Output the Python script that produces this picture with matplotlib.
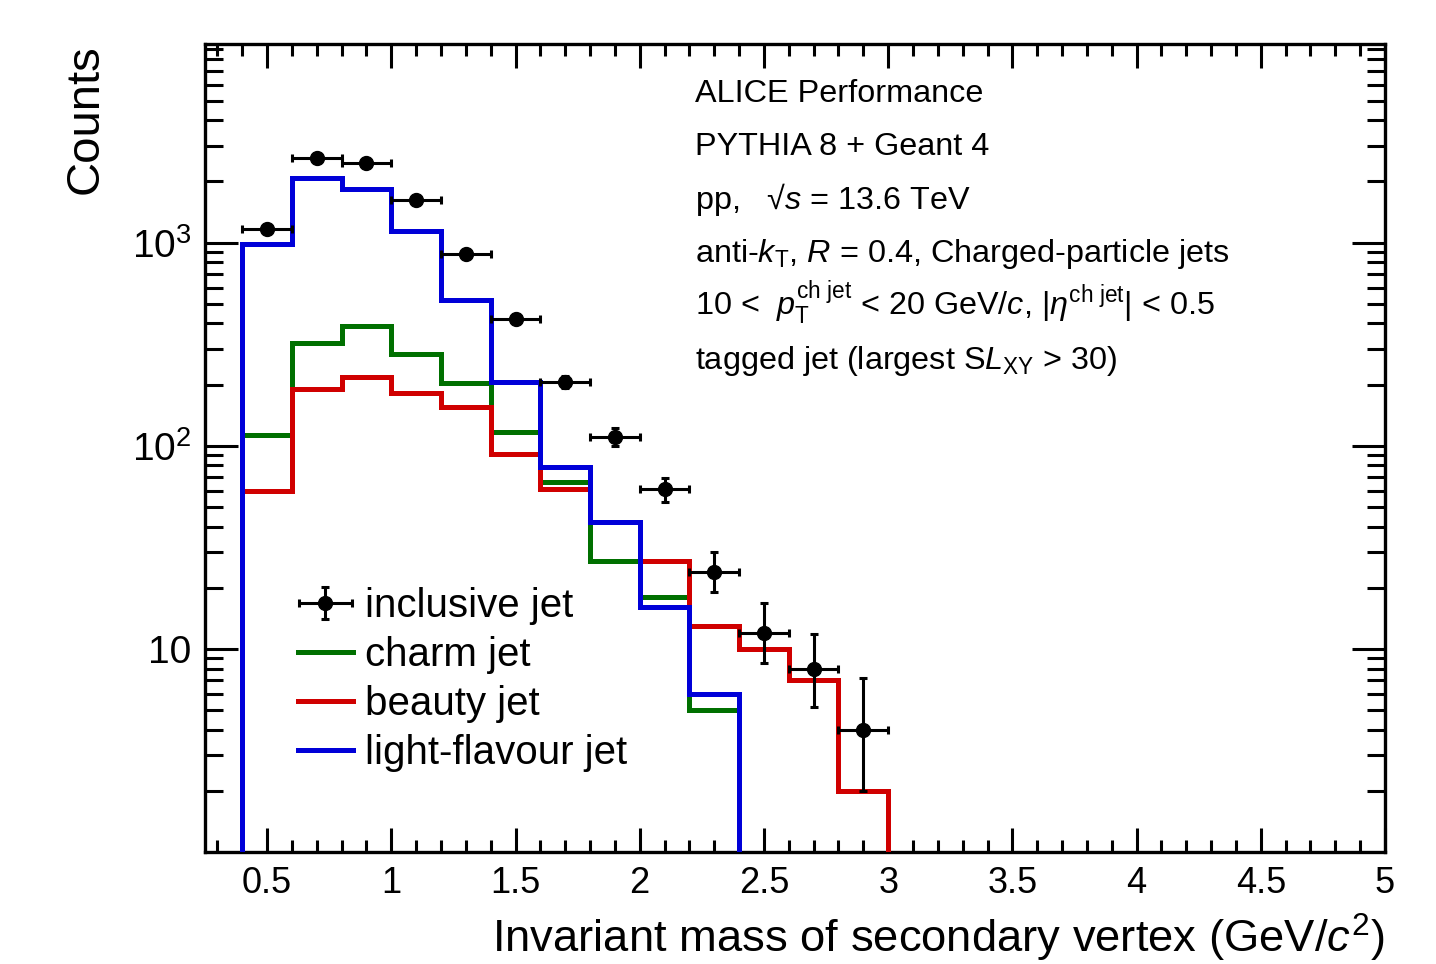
import numpy as np
import matplotlib
matplotlib.use('Agg')
import matplotlib.pyplot as plt
from matplotlib.ticker import FixedLocator, LogLocator, NullFormatter, MultipleLocator
from matplotlib.legend_handler import HandlerErrorbar
from matplotlib.lines import Line2D

# --- data ---
bin_edges = [0.4, 0.6, 0.8, 1.0, 1.2, 1.4, 1.6, 1.8, 2.0, 2.2, 2.4, 2.6, 2.8, 3.0]
bin_centres = [0.5, 0.7, 0.9, 1.1, 1.3, 1.5, 1.7, 1.9, 2.1, 2.3, 2.5, 2.7, 2.9]

inclusive = [1172, 2623, 2477, 1629, 883, 422, 207, 111, 61, 24, 12, 8, 4]
inclusive_err_lo = [34, 51, 50, 40, 30, 21, 14, 11, 8, 4.9, 3.5, 2.8, 2.0]
inclusive_err_hi = [34, 51, 50, 40, 30, 21, 14, 11, 8, 6.0, 4.8, 3.9, 3.2]

charm = [113, 322, 390, 284, 204, 117, 66, 27, 18, 5, 0, 0, 0]
beauty = [60, 191, 219, 182, 156, 91, 61, 42, 27, 13, 10, 7, 2]
light = [980, 2090, 1845, 1146, 524, 207, 79, 42, 16, 6, 0, 0, 0]

xticks = [0.5, 1, 1.5, 2, 2.5, 3, 3.5, 4, 4.5, 5]
xtick_labels = ['0.5', '1', '1.5', '2', '2.5', '3', '3.5', '4', '4.5', '5']
yticks = [10, 100, 1000]
ytick_labels = ['10', '$10^2$', '$10^3$']

info_lines = [
    'ALICE Performance',
    'PYTHIA 8 + Geant 4',
    r'pp,   √$s$ = 13.6 TeV',
    r'anti-$k_{\mathrm{T}}$, $R$ = 0.4, Charged-particle jets',
    r'10 <  $p_{\mathrm{T}}^{\mathrm{ch\ jet}}$ < 20 GeV/$c$, $|\eta^{\mathrm{ch\ jet}}|$ < 0.5',
    r'tagged jet (largest S$L_{\mathrm{XY}}$ > 30)',
]

# --- style ---
plt.rcParams['font.family'] = ['Liberation Sans', 'DejaVu Sans']
plt.rcParams['mathtext.fontset'] = 'custom'
plt.rcParams['mathtext.rm'] = 'Liberation Sans'
plt.rcParams['mathtext.it'] = 'Liberation Sans:italic'
plt.rcParams['mathtext.bf'] = 'Liberation Sans:bold'

W, H = 1436, 964
fig = plt.figure(figsize=(W / 100, H / 100), dpi=100)
ax = fig.add_axes([205 / W, 1 - 852 / H, (1385 - 205) / W, (852 - 44) / H])
ax.set_yscale('log', nonpositive='clip')

lw_hist = 3.6
ax.stairs(charm, bin_edges, baseline=1e-3, color='#007000', lw=lw_hist, zorder=2)
ax.stairs(beauty, bin_edges, baseline=1e-3, color='#d00000', lw=lw_hist, zorder=3)
ax.stairs(light, bin_edges, baseline=1e-3, color='#0000d8', lw=lw_hist, zorder=4)

xerr = np.diff(bin_edges) / 2
eb = ax.errorbar(bin_centres, inclusive, yerr=[inclusive_err_lo, inclusive_err_hi], xerr=xerr,
                 fmt='o', color='black', ms=10, elinewidth=2.2, capsize=3, capthick=2.2, zorder=5)

ax.set_xlim(0.25, 5.0)
ax.set_ylim(1, 9500)

# ticks ROOT-style
ax.xaxis.set_major_locator(FixedLocator(xticks))
ax.set_xticklabels(xtick_labels)
ax.xaxis.set_minor_locator(MultipleLocator(0.1))
ax.yaxis.set_major_locator(FixedLocator(yticks))
ax.set_yticklabels(ytick_labels)
ax.yaxis.set_minor_locator(LogLocator(base=10, subs=np.arange(2, 10)))
ax.yaxis.set_minor_formatter(NullFormatter())
ax.tick_params(axis='both', which='both', direction='in', top=True, right=True, width=2.2)
ax.tick_params(axis='x', which='major', length=17, labelsize=26, pad=10)
ax.tick_params(axis='x', which='minor', length=8.5)
ax.tick_params(axis='y', which='major', length=24, labelsize=28, pad=10)
ax.tick_params(axis='y', which='minor', length=13)
for s in ax.spines.values():
    s.set_linewidth(2.4)

ax.set_xlabel(r'Invariant mass of secondary vertex (GeV/$c^{2}$)', fontsize=32.7, loc='right', labelpad=8)
ax.set_ylabel('Counts', fontsize=34, loc='top', labelpad=17)

# info text block
for i, line in enumerate(info_lines):
    fig.text(695 / W, 1 - (102 + i * 53.3) / H, line, fontsize=23.3, ha='left', va='baseline')

# legend
handles = [eb,
           Line2D([], [], color='#007000', lw=lw_hist),
           Line2D([], [], color='#d00000', lw=lw_hist),
           Line2D([], [], color='#0000d8', lw=lw_hist)]
labels = ['inclusive jet', 'charm jet', 'beauty jet', 'light-flavour jet']
ax.legend(handles, labels, loc='upper left', bbox_to_anchor=(278 / W, 1 - 567 / H),
          bbox_transform=fig.transFigure, frameon=False,
          prop={'family': ['Liberation Sans', 'DejaVu Sans'], 'size': 29},
          handlelength=1.35, handletextpad=0.32, labelspacing=0.27, borderpad=0,
          handler_map={type(eb): HandlerErrorbar(xerr_size=0.65, yerr_size=0.4)})

fig.savefig('out.png', dpi=100)
